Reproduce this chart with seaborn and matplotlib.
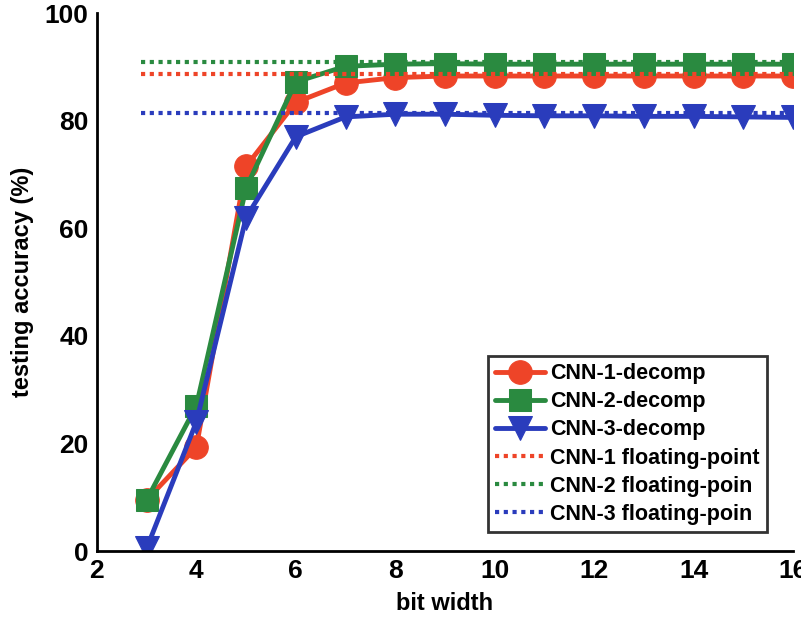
import matplotlib
matplotlib.use("Agg")
import matplotlib.pyplot as plt
import seaborn as sns
import pandas as pd

bits = [3, 4, 5, 6, 7, 8, 9, 10, 11, 12, 13, 14, 15, 16]
cnn1 = [9.5, 19.3, 71.5, 83.4, 87.0, 88.0, 88.3, 88.3, 88.3, 88.3, 88.3, 88.3, 88.3, 88.3]
cnn2 = [9.5, 27.0, 67.5, 87.2, 90.1, 90.5, 90.6, 90.5, 90.5, 90.5, 90.5, 90.5, 90.5, 90.5]
cnn3 = [0.5, 24.0, 62.0, 77.0, 80.7, 81.2, 81.2, 81.0, 80.9, 80.9, 80.8, 80.8, 80.7, 80.6]
float1 = 88.7
float2 = 90.9
float3 = 81.4
float_x = [2.88, 16]
labels = ["CNN-1-decomp", "CNN-2-decomp", "CNN-3-decomp",
          "CNN-1 floating-point", "CNN-2 floating-poin", "CNN-3 floating-poin"]
colors = ["#ee4428", "#2a8a40", "#2a3cbc"]

sns.set_style("white")
plt.rcParams["font.family"] = ["Liberation Sans", "DejaVu Sans"]
plt.rcParams["font.weight"] = "bold"
plt.rcParams["text.color"] = "black"
plt.rcParams["axes.labelcolor"] = "black"
plt.rcParams["xtick.color"] = "black"
plt.rcParams["ytick.color"] = "black"

fig = plt.figure(figsize=(8.01, 6.22), dpi=100)
ax = fig.add_axes([0.121, 0.114, 0.869, 0.865])

markers = ["o", "s", "v"]
for vals, lab, c, m in zip([cnn1, cnn2, cnn3], labels[:3], colors, markers):
    df = pd.DataFrame({"bit": bits, "acc": vals})
    sns.lineplot(data=df, x="bit", y="acc", ax=ax, color=c, marker=m,
                 markersize=17 if m != "s" else 15.5, markeredgecolor=c,
                 linewidth=3.5, label=lab)

for fv, lab, c in zip([float1, float2, float3], labels[3:], colors):
    df = pd.DataFrame({"bit": float_x, "acc": [fv, fv]})
    sns.lineplot(data=df, x="bit", y="acc", ax=ax, color=c,
                 linestyle=(0, (1, 1.1)), linewidth=3, label=lab)

ax.set_xlim(2, 16)
ax.set_ylim(0, 100)
ax.set_xticks([2, 4, 6, 8, 10, 12, 14, 16])
ax.set_yticks([0, 20, 40, 60, 80, 100])
ax.set_xlabel("bit width", fontsize=17, fontweight="bold", labelpad=6)
ax.set_ylabel("testing accuracy (%)", fontsize=17, fontweight="bold", labelpad=8)
ax.tick_params(axis="both", direction="in", length=6, width=1.5, labelsize=19, pad=6)
for t in ax.get_xticklabels() + ax.get_yticklabels():
    t.set_fontweight("bold")
ax.spines["top"].set_visible(False)
ax.spines["right"].set_visible(False)
ax.spines["left"].set_linewidth(2)
ax.spines["bottom"].set_linewidth(2)
ax.spines["left"].set_color("black")
ax.spines["bottom"].set_color("black")

leg = ax.legend(loc="lower right", bbox_to_anchor=(0.963, 0.035), borderaxespad=0,
                fontsize=15.5, frameon=True, fancybox=False, edgecolor="black",
                handlelength=2.3, handletextpad=0.25, borderpad=0.35,
                labelspacing=0.33, markerscale=1.0)
leg.get_frame().set_linewidth(2)
for t in leg.get_texts():
    t.set_fontweight("bold")

fig.savefig("out.png", dpi=100)
